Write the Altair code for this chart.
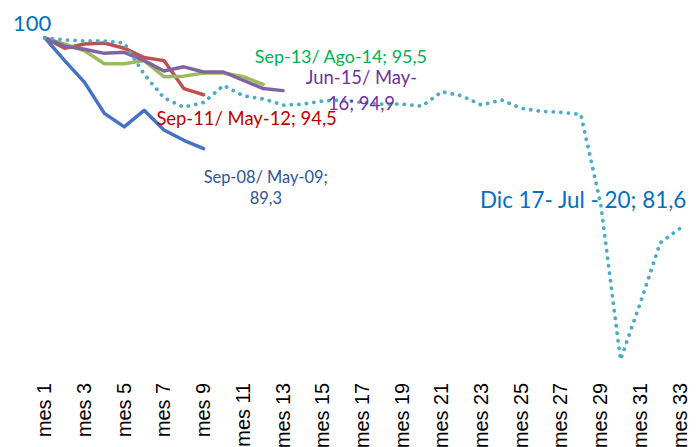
import altair as alt
import pandas as pd

# ---- data ----
months = list(range(1, 34))
tick_months = list(range(1, 34, 2))

s_0809 = [100, 97.8, 95.7, 92.7, 91.4, 93.0, 91.1, 90.1, 89.3]
s_1112 = [100, 99.0, 99.4, 99.5, 99.0, 98.1, 97.8, 95.1, 94.5]
s_1314 = [100, 99.4, 98.75, 97.5, 97.5, 97.8, 96.25, 96.3, 96.6, 96.6, 96.25, 95.5]
s_1516 = [100, 99.2, 98.9, 98.5, 98.6, 97.8, 96.8, 97.2, 96.7, 96.7, 95.9, 95.1, 94.9]
s_1720 = [100, 99.8, 99.7, 99.7, 99.5, 96.5, 94.2, 93.3, 93.75, 95.4, 94.4, 94.1,
          93.5, 93.6, 93.9, 94.0, 93.75, 93.6, 93.6, 93.4, 94.8, 94.4, 93.5, 94.0,
          93.2, 92.9, 92.8, 92.6, 84.0, 68.9, 74.4, 80.2, 81.6]

solid_names = ["Sep-08/May-09", "Sep-11/May-12", "Sep-13/Ago-14", "Jun-15/May-16"]
solid_values = [s_0809, s_1112, s_1314, s_1516]
solid_colors = ["#4472C4", "#C0504D", "#9BBB59", "#8064A2"]
dotted_name = "Dic-17/Jul-20"
dotted_color = "#4BACC6"

label_texts = ["100", "Sep-13/ Ago-14; 95,5", "Jun-15/ May-\n16; 94,9",
               "Sep-11/ May-12; 94,5", "Sep-08/ May-09;\n89,3",
               "Dic 17- Jul - 20; 81,6"]
label_x = [-0.6, 11.58, 16.95, 6.62, 12.13, 22.92]
label_y = [101.38, 98.03, 96.1, 92.16, 86.49, 84.28]
label_colors = ["#0070C0", "#00B050", "#7030A0", "#C00000", "#2F5496", "#0070C0"]
label_sizes = [22, 18, 18.5, 18.5, 16.5, 22.5]
label_align = ["left", "left", "center", "left", "center", "left"]
label_lh = [22, 22, 25.5, 22, 21.5, 22]

# ---- tables ----
rows = []
for name, vals in zip(solid_names, solid_values):
    for m, v in zip(months, vals):
        rows.append({"serie": name, "mes": m, "valor": v})
solid_df = pd.DataFrame(rows)
dotted_df = pd.DataFrame({"serie": dotted_name, "mes": months[:len(s_1720)], "valor": s_1720})
labels_df = pd.DataFrame({"t": label_texts, "x": label_x, "y": label_y})

x_scale = alt.Scale(domain=[1, 33], nice=False, zero=False)
y_scale = alt.Scale(domain=[67.3, 100], nice=False, zero=False)

x_axis = alt.Axis(values=tick_months, tickCount=40, labelExpr="'mes ' + datum.value",
                  labelAngle=270, labelFont="Liberation Sans", labelFontSize=20,
                  labelColor="#000000", labelPadding=6, ticks=False, domain=False,
                  grid=False, title=None, labelOverlap=False, labelBound=False,
                  labelFlush=False, labelSeparation=0)

solid = alt.Chart(solid_df).mark_line(strokeWidth=3.5, strokeJoin="round", strokeCap="round").encode(
    x=alt.X("mes:Q", scale=x_scale, axis=x_axis),
    y=alt.Y("valor:Q", scale=y_scale, axis=None),
    color=alt.Color("serie:N", scale=alt.Scale(domain=solid_names, range=solid_colors), legend=None),
    order=alt.Order("mes:Q"),
)

dotted = alt.Chart(dotted_df).mark_line(strokeWidth=3.8, strokeDash=[0.1, 7.5], strokeCap="round",
                                        color=dotted_color).encode(
    x=alt.X("mes:Q", scale=x_scale),
    y=alt.Y("valor:Q", scale=y_scale),
)

text_layers = []
for i in range(len(label_texts)):
    sub = labels_df.iloc[[i]]
    text_layers.append(
        alt.Chart(sub).mark_text(font="Lato", align=label_align[i], baseline="middle",
                                 lineBreak="\n", lineHeight=label_lh[i],
                                 fontSize=label_sizes[i], color=label_colors[i]).encode(
            x=alt.X("x:Q", scale=x_scale),
            y=alt.Y("y:Q", scale=y_scale),
            text="t:N",
        )
    )

chart = alt.layer(solid, dotted, *text_layers).properties(
    width=638, height=340,
    autosize=alt.AutoSizeParams(type="none"),
    padding={"left": 37, "top": 29, "right": 8, "bottom": 70},
).configure(background="white").configure_view(stroke=None, strokeWidth=0).configure_axis(
    labelOverlap=False
)

chart.save("out.html", embed_options={"renderer": "svg", "actions": False})
